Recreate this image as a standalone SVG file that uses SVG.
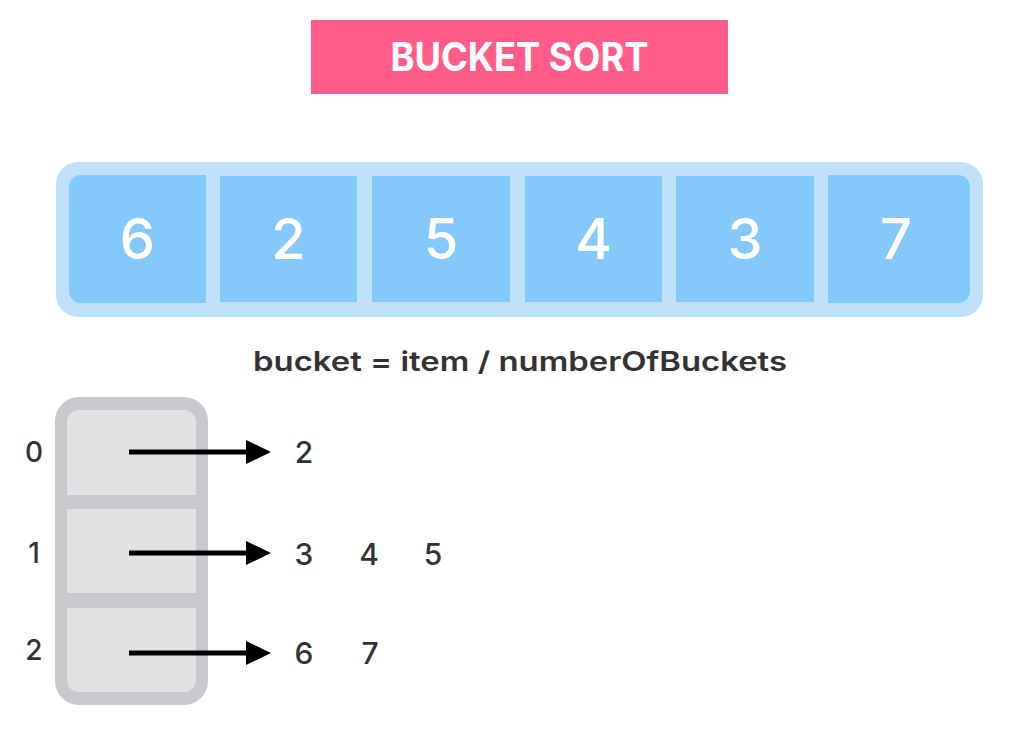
<svg xmlns="http://www.w3.org/2000/svg" width="1024" height="742" viewBox="0 0 1024 742">
  <style>
    .title { font-family: Inter, "Noto Sans", "Liberation Sans", sans-serif; font-weight: 700; font-size: 39px; fill: #ffffff; }
    .cell { fill: #84c9f9; }
    .num { font-family: Inter, "Noto Sans", "Liberation Sans", sans-serif; font-weight: 500; font-size: 56px; fill: #ffffff; text-anchor: middle; }
    .formula { font-family: Inter, "Noto Sans", "Liberation Sans", sans-serif; font-weight: 600; font-size: 27px; fill: #333333; text-anchor: middle; }
    .idx { font-family: Inter, "Noto Sans", "Liberation Sans", sans-serif; font-weight: 500; font-size: 28px; fill: #333333; text-anchor: middle; }
    .val { font-family: Inter, "Noto Sans", "Liberation Sans", sans-serif; font-weight: 500; font-size: 30px; fill: #333333; text-anchor: middle; }
    .bcell { fill: #e1e2e4; }
    .arrow { stroke: #000000; stroke-width: 5; fill: none; }
  </style>

  <g id="title">
    <rect x="311" y="20" width="417" height="74" fill="#ff5c8a"/>
    <text class="title" x="519.5" y="71" text-anchor="middle" textLength="258" lengthAdjust="spacingAndGlyphs">BUCKET SORT</text>
  </g>

  <g id="array">
    <rect x="56" y="162" width="927" height="155" rx="22" fill="#bfe1fb"/>
    <g id="cell-0">
      <path class="cell" d="M81,175 H206 V303 H81 A12,12 0 0 1 69,291 V187 A12,12 0 0 1 81,175 Z"/>
      <text class="num" x="137.5" y="259">6</text>
    </g>
    <g id="cell-1">
      <rect class="cell" x="220" y="176" width="137" height="126"/>
      <text class="num" x="288.5" y="259">2</text>
    </g>
    <g id="cell-2">
      <rect class="cell" x="372" y="176" width="138" height="126"/>
      <text class="num" x="441" y="259">5</text>
    </g>
    <g id="cell-3">
      <rect class="cell" x="525" y="176" width="137" height="126"/>
      <text class="num" x="593.5" y="259">4</text>
    </g>
    <g id="cell-4">
      <rect class="cell" x="676" y="176" width="138" height="126"/>
      <text class="num" x="745" y="259">3</text>
    </g>
    <g id="cell-5">
      <path class="cell" d="M828,175 H958 A12,12 0 0 1 970,187 V291 A12,12 0 0 1 958,303 H828 Z"/>
      <text class="num" x="896" y="259">7</text>
    </g>
  </g>

  <g id="formula">
    <text class="formula" x="520" y="371" textLength="534" lengthAdjust="spacingAndGlyphs">bucket = item / numberOfBuckets</text>
  </g>

  <g id="buckets">
    <rect x="55" y="397" width="153" height="308" rx="24" fill="#c7c9cc"/>
    <g id="bucket-0">
      <path class="bcell" d="M79,410 H184 A12,12 0 0 1 196,422 V495 H67 V422 A12,12 0 0 1 79,410 Z"/>
      <text class="idx" x="34" y="462">0</text>
    </g>
    <g id="bucket-1">
      <rect class="bcell" x="67" y="509" width="129" height="84"/>
      <text class="idx" x="34" y="563">1</text>
    </g>
    <g id="bucket-2">
      <path class="bcell" d="M67,608 H196 V680 A12,12 0 0 1 184,692 H79 A12,12 0 0 1 67,680 Z"/>
      <text class="idx" x="34" y="660">2</text>
    </g>
  </g>

  <g id="values">
    <text class="val" x="304" y="463">2</text>
    <text class="val" x="304" y="565">3</text>
    <text class="val" x="369" y="565">4</text>
    <text class="val" x="433" y="565">5</text>
    <text class="val" x="304" y="664">6</text>
    <text class="val" x="370" y="664">7</text>
  </g>

  <g id="connectors">
    <line class="arrow" x1="129" y1="452" x2="247" y2="452"/>
    <path d="M246,440 L271,452 L246,464 Z" fill="#000"/>
    <line class="arrow" x1="129" y1="553" x2="247" y2="553"/>
    <path d="M246,541 L271,553 L246,565 Z" fill="#000"/>
    <line class="arrow" x1="129" y1="653" x2="247" y2="653"/>
    <path d="M246,641 L271,653 L246,665 Z" fill="#000"/>
  </g>
</svg>
